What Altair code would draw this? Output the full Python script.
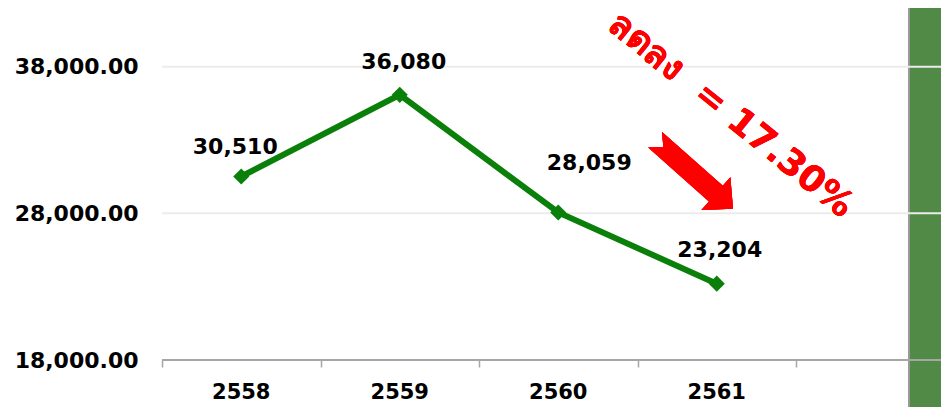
import altair as alt
import pandas as pd

# ---- data ----
years = ["2558", "2559", "2560", "2561"]
values = [30510, 36080, 28059, 23204]
value_labels = ["30,510", "36,080", "28,059", "23,204"]
y_ticks = [18000, 28000, 38000]
annotation_text = "ลดลง\u00a0\u00a0= 17.30%"

# ---- layout / style ----
label_offsets = [(-6, -30), (4, -33), (31, -49), (3, -34)]
PX_PER_BAND = 158.5
W = 779
H = 352
PAD_LEFT, PAD_BOTTOM = 154, 47
X_MAX = W / PX_PER_BAND
Y_DOMAIN = [18000, 42000]
FONT = "DejaVu Sans"
LINE_GREEN = "#0a7f0a"
BAR_LEFT = 747

df = pd.DataFrame({
    "year": years,
    "value": values,
    "label": value_labels,
    "pos": [i + 0.5 for i in range(len(years))],
})
tick_df = pd.DataFrame({"y": y_ticks})

xs = alt.Scale(domain=[0, X_MAX], nice=False, zero=False)
ys = alt.Scale(domain=Y_DOMAIN, nice=False, zero=False)

x_axis = alt.Axis(values=list(range(len(years) + 1)), labels=False, ticks=True,
                  tickColor="#a6a6a6", tickSize=7, tickWidth=1.5, domain=False,
                  grid=False, title=None)
y_axis = alt.Axis(values=y_ticks, format=",.2f", grid=False, domain=False, ticks=False,
                  labelFont=FONT, labelFontSize=22, labelFontWeight="bold",
                  labelColor="black", labelPadding=24, title=None)

base = alt.Chart(df)

green_bar = alt.Chart(df).mark_rect(color="#518a46").encode(
    x=alt.value(BAR_LEFT), x2=alt.value(W), y=alt.value(0), y2=alt.value(H + PAD_BOTTOM))
green_border = alt.Chart(df).mark_rule(color="#9a9a9a", strokeWidth=1.5).encode(
    x=alt.value(BAR_LEFT), y=alt.value(0), y2=alt.value(H + PAD_BOTTOM))

grid = alt.Chart(tick_df).transform_filter(alt.datum.y > Y_DOMAIN[0]).mark_rule(
    color="#ececec", strokeWidth=2).encode(
    y=alt.Y("y:Q", scale=ys, axis=y_axis), x=alt.value(0), x2=alt.value(W))
baseline = alt.Chart(tick_df).transform_filter(alt.datum.y == Y_DOMAIN[0]).mark_rule(
    color="#a6a6a6", strokeWidth=2).encode(
    y=alt.Y("y:Q", scale=ys), x=alt.value(0), x2=alt.value(W))

line = base.mark_line(color=LINE_GREEN, strokeWidth=6).encode(
    x=alt.X("pos:Q", scale=xs, axis=x_axis),
    y=alt.Y("value:Q", scale=ys))
points = base.mark_point(shape="diamond", filled=True, size=260, color=LINE_GREEN,
                         opacity=1).encode(
    x=alt.X("pos:Q", scale=xs), y=alt.Y("value:Q", scale=ys))

labels = []
for yr, (dx, dy) in zip(years, label_offsets):
    labels.append(base.transform_filter(alt.datum.year == yr).mark_text(
        font=FONT, fontSize=22, fontWeight="bold", color="black",
        baseline="middle", align="center", dx=dx, dy=dy).encode(
        x=alt.X("pos:Q", scale=xs), y=alt.Y("value:Q", scale=ys), text="label:N"))

year_labels = base.mark_text(font=FONT, fontSize=21, fontWeight="bold", color="black",
                             baseline="middle", align="center").encode(
    x=alt.X("pos:Q", scale=xs), y=alt.value(H + 32.5), text="year:N")

ARROW = "M -1 -0.2 L 0.56 -0.2 L 0.56 -0.42 L 1 0 L 0.56 0.42 L 0.56 0.2 L -1 0.2 L -0.79 0 Z"
arrow = alt.Chart(df).mark_point(shape=ARROW, size=10816, angle=41.5, filled=True,
                                 color="#ff0000", opacity=1).encode(
    x=alt.X(datum=3.357, scale=xs), y=alt.Y(datum=30662, scale=ys))

note = alt.Chart(df).mark_text(text=annotation_text, angle=39, color="#ff0000",
                               font=FONT, fontSize=36, fontWeight="bold",
                               baseline="middle", align="center").encode(
    x=alt.X(datum=3.59, scale=xs), y=alt.Y(datum=34700, scale=ys))

chart = alt.layer(green_bar, green_border, grid, baseline, line, points, *labels,
                  year_labels, arrow, note).properties(
    width=W, height=H,
    autosize=alt.AutoSizeParams(type="none"),
    padding={"left": PAD_LEFT, "top": 0, "right": 0, "bottom": PAD_BOTTOM},
    background="white",
).configure_view(stroke=None)

chart.save("out.html", embed_options={"renderer": "svg", "actions": False})
